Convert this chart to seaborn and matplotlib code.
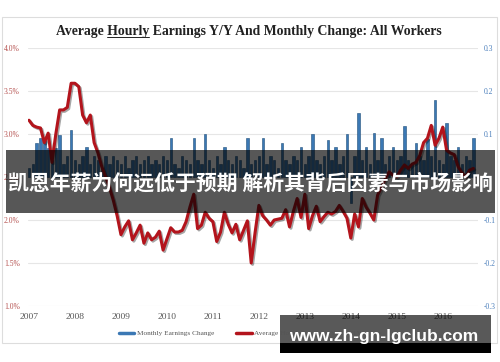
import numpy as np
import pandas as pd
import matplotlib
matplotlib.use("Agg")
import matplotlib.pyplot as plt
import matplotlib.patheffects as pe
from matplotlib.patches import Rectangle
import seaborn as sns

# ---------------- data ----------------
years = ["2007", "2008", "2009", "2010", "2011", "2012", "2013", "2014", "2015", "2016"]

yoy = [3.16, 3.10, 3.08, 3.07, 2.90, 3.01, 2.67, 3.00, 3.28, 3.28, 3.31, 3.59,
       3.59, 3.55, 3.22, 3.13, 3.22, 2.90, 2.78, 2.62, 2.50, 2.38, 2.23, 2.05,
       1.83, 1.92, 1.99, 1.77, 1.85, 1.94, 1.73, 1.85, 1.77, 1.80, 1.87, 1.65,
       1.78, 1.91, 1.86, 1.86, 1.88, 1.98, 2.15, 2.30, 1.90, 1.94, 2.09, 2.02,
       1.98, 1.75, 1.86, 2.09, 1.95, 1.85, 1.95, 1.77, 1.88, 1.99, 1.50, 1.85,
       2.17, 2.05, 2.00, 1.94, 2.00, 2.01, 2.02, 2.12, 1.92, 2.10, 2.25, 2.03,
       2.30, 1.90, 2.05, 2.16, 1.98, 2.04, 2.09, 2.07, 2.10, 2.17, 2.10, 2.02,
       1.79, 2.07, 1.92, 2.25, 2.15, 2.08, 2.00, 2.29, 2.38, 2.48, 2.56, 2.52,
       2.50, 2.58, 2.64, 2.60, 2.65, 2.67, 2.75, 2.90, 2.95, 3.10, 2.87, 2.95,
       3.08, 2.81, 2.78, 2.76, 2.62, 2.55, 2.50, 2.58, 2.60]

monthly = [0.02, 0.03, 0.079, 0.09, 0.086, 0.067, 0.04, 0.067, 0.098, 0.03, 0.05, 0.109,
           0.04, 0.03, 0.05, 0.07, 0.03, 0.05, 0.04, 0.02, 0.05, 0.03, 0.05, 0.04,
           0.03, 0.05, 0.02, 0.04, 0.05, 0.03, 0.04, 0.05, 0.03, 0.04, 0.03, 0.05,
           0.04, 0.09, 0.03, 0.02, 0.05, 0.04, 0.03, 0.09, 0.04, 0.03, 0.10, 0.04,
           0.02, 0.05, 0.03, 0.07, 0.04, 0.03, 0.05, 0.04, 0.02, 0.09, 0.03, 0.04,
           0.05, 0.09, 0.03, 0.05, 0.04, 0.02, 0.079, 0.04, 0.03, 0.05, 0.04, 0.07,
           0.03, 0.05, 0.10, 0.04, 0.03, 0.05, 0.086, 0.04, 0.07, 0.03, 0.05, 0.10,
           -0.06, 0.05, 0.149, 0.04, 0.07, 0.03, 0.102, 0.04, 0.09, 0.03, 0.05, 0.07,
           0.04, 0.05, 0.119, 0.04, 0.03, 0.079, 0.05, 0.04, 0.088, 0.05, 0.179, 0.04,
           0.03, 0.125, 0.05, 0.04, 0.07, 0.03, 0.05, 0.04, 0.09]

left_ticks = [1.0, 1.5, 2.0, 2.5, 3.0, 3.5, 4.0]
left_labels = ["1.0%", "1.5%", "2.0%", "2.5%", "3.0%", "3.5%", "4.0%"]
right_ticks = [-0.3, -0.2, -0.1, 0.0, 0.1, 0.2, 0.3]
right_labels = ["-0.3", "-0.2", "-0.1", "0", "0.1", "0.2", "0.3"]

title = "Average Hourly Earnings Y/Y And Monthly Change: All Workers"
legend_labels = ["Monthly Earnings Change", "Average Hourly Earnings Y/Y: All Workers"]
banner_text = "凯恩年薪为何远低于预期 解析其背后因素与市场影响"
watermark = "www.zh-gn-lgclub.com"

idx = np.arange(len(yoy))
df = pd.DataFrame({"m": idx, "yoy": yoy, "chg": monthly})

# ---------------- style ----------------
sns.set_style("white")
plt.rcParams["font.family"] = ["Liberation Serif", "DejaVu Serif"]

BLUE = "#3b78b4"
RED = "#b3141c"

fig = plt.figure(figsize=(5.0, 3.62), dpi=100)
ax = fig.add_axes([0.056, 0.1547, 0.90, 0.7127])

sns.barplot(data=df, x="m", y="chg", ax=ax, color=BLUE, saturation=1,
            width=0.62, native_scale=True, errorbar=None, zorder=2,
            linewidth=0.4, edgecolor="#1f4e79")
ax.set_ylim(-0.3, 0.3)
ax.set_xlim(-0.26, 117.2)
ax.set_yticks(right_ticks)
ax.set_yticklabels(right_labels)
ax.grid(axis="y", color="#e6e6e6", linewidth=0.8, zorder=0)
ax.grid(axis="x", visible=False)
ax.set_axisbelow(True)
ax.set_xticks(idx[::12][:len(years)])
ax.set_xticklabels(years)
ax.tick_params(axis="x", colors="#555555", labelsize=6.8, length=0, pad=5)
ax.set_xlabel("")
ax.set_ylabel("")
for s in ax.spines.values():
    s.set_visible(False)

ax2 = ax.twinx()
sns.lineplot(data=df, x="m", y="yoy", ax=ax2, color=RED, linewidth=2.2,
             path_effects=[pe.SimpleLineShadow(offset=(1, -1), alpha=0.35),
                           pe.Normal()])
ax2.set_ylim(1.0, 4.0)
ax2.set_yticks(left_ticks)
ax2.set_yticklabels(left_labels)
ax2.set_ylabel("")
ax2.grid(False)
for s in ax2.spines.values():
    s.set_visible(False)

# swap sides: bars scale on the right, line scale on the left
ax.yaxis.tick_right()
ax.yaxis.set_label_position("right")
ax2.yaxis.tick_left()
ax2.yaxis.set_label_position("left")
ax.tick_params(axis="y", colors="#4a7ebb", labelsize=5.5, length=0, pad=4,
               left=False, labelleft=False, right=False, labelright=True)
ax2.tick_params(axis="y", colors="#b5514f", labelsize=5.5, length=0, pad=6,
                right=False, labelright=False, left=False, labelleft=True)

# legend
handles = [plt.Line2D([0], [0], color=BLUE, lw=2.5),
           plt.Line2D([0], [0], color=RED, lw=2.5)]
fig.legend(handles, legend_labels, loc="center", bbox_to_anchor=(0.5, 1 - 333 / 362),
           ncol=2, frameon=False, fontsize=5.2, handlelength=2.2, columnspacing=3.0,
           handletextpad=0.3, labelcolor="#555555")

# outer border
fig.patches.append(Rectangle((0.004, 1 - 343 / 362), 0.99, 326 / 362,
                             transform=fig.transFigure, fill=False,
                             edgecolor="#dddddd", linewidth=0.8, zorder=0))

# title with underlined "Hourly"
tsize = 9.9
t = fig.text(0.498, 1 - 32 / 362, title, ha="center", va="center",
             fontsize=tsize, fontweight="bold", color="#222222",
             family=["Liberation Serif"])
fig.canvas.draw()
r = fig.canvas.get_renderer()
bb = t.get_window_extent(r)
tmp = fig.text(0, 0, "Average ", fontsize=tsize, fontweight="bold", family=["Liberation Serif"])
w1 = tmp.get_window_extent(r).width
tmp.set_text("Average Hourly")
w2 = tmp.get_window_extent(r).width
tmp.remove()
W, H = fig.bbox.width, fig.bbox.height
uy = (bb.y0 + 1.5) / H
fig.add_artist(plt.Line2D([(bb.x0 + w1) / W, (bb.x0 + w2) / W], [uy, uy],
                          transform=fig.transFigure, color="#222222", lw=0.7))

# banner overlay
fig.patches.append(Rectangle((6 / 500, 1 - 213 / 362), 489 / 500, 63 / 362,
                             transform=fig.transFigure, facecolor="black",
                             alpha=0.66, edgecolor="none", zorder=5))
fig.text(0.5, 1 - 183 / 362, banner_text, ha="center", va="center", color="white",
         fontsize=15, fontweight="bold", family=["Noto Sans CJK SC", "DejaVu Sans"],
         zorder=6)

# watermark box
fig.patches.append(Rectangle((280 / 500, 1 - 343 / 362), 211 / 500, 28 / 362,
                             transform=fig.transFigure, facecolor="black",
                             alpha=0.65, edgecolor="none", zorder=5))
fig.patches.append(Rectangle((280 / 500, 1 - 353 / 362), 211 / 500, 10 / 362,
                             transform=fig.transFigure, facecolor="black",
                             alpha=1.0, edgecolor="none", zorder=5))
fig.text(384 / 500, 1 - 337 / 362, watermark, ha="center", va="center", color="white",
         fontsize=12.5, fontweight="bold", family=["Liberation Sans", "DejaVu Sans"],
         zorder=6)

fig.savefig("out.png", dpi=100)
